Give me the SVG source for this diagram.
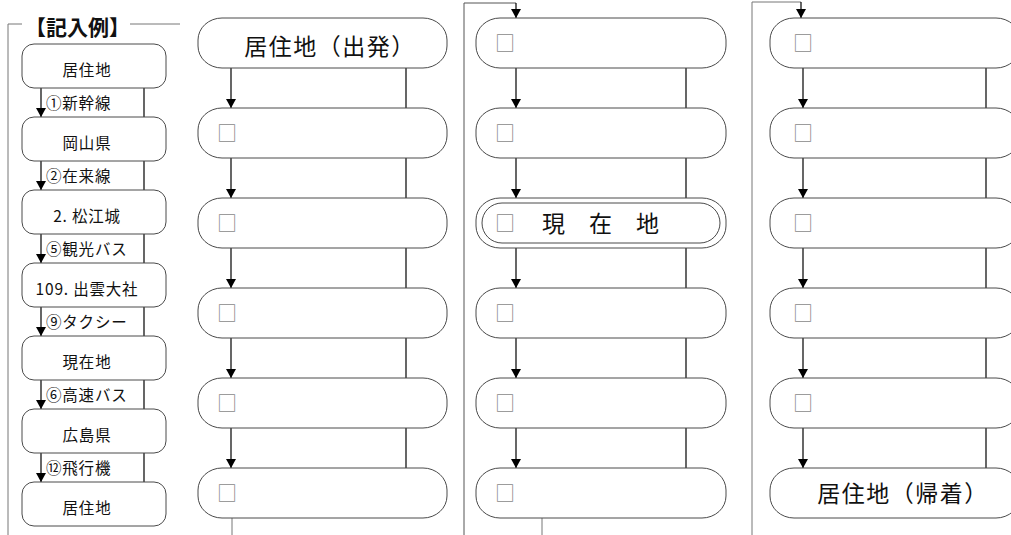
<svg xmlns="http://www.w3.org/2000/svg" width="1011" height="535" viewBox="0 0 1011 535">
<defs>
<marker id="ah" markerUnits="userSpaceOnUse" markerWidth="10" markerHeight="10" refX="9" refY="5" orient="auto" viewBox="0 0 10 10">
<path d="M0,0 L9,5 L0,10 Z" fill="#000"/>
</marker>
<style>
text{font-family:"Noto Sans CJK JP","Noto Sans",sans-serif;fill:#111}
.ex{fill:#fff;stroke:#4a4a4a;stroke-width:1}
.bx{fill:#fff;stroke:#4a4a4a;stroke-width:1}
.ext{font-size:15.5px;text-anchor:middle;letter-spacing:0.8px}
.lab{font-size:15.5px;letter-spacing:0.8px}
.big{font-size:23px;text-anchor:middle;letter-spacing:1.5px}
.chk{font-size:20px;fill:#8a8a8a}
.arr{stroke:#000;stroke-width:1.2;fill:none;marker-end:url(#ah)}
.ln{stroke:#000;stroke-width:1.2;fill:none}
.frm{stroke:#777;stroke-width:1;fill:none}
</style>
</defs>
<rect width="1011" height="535" fill="#fff"/>

<g id="example-frame">
<path class="frm" d="M8,535 V24 H22"/>
<line class="frm" x1="130" y1="24" x2="180" y2="24"/>
<text x="25" y="35" style="font-size:21px;font-weight:bold">【記入例】</text>
</g>

<g id="connectors">
<line class="arr" x1="41" y1="88" x2="41" y2="117"/>
<line class="ln" x1="144" y1="88" x2="144" y2="117"/>
<line class="arr" x1="41" y1="161" x2="41" y2="190"/>
<line class="ln" x1="144" y1="161" x2="144" y2="190"/>
<line class="arr" x1="41" y1="234" x2="41" y2="263"/>
<line class="ln" x1="144" y1="234" x2="144" y2="263"/>
<line class="arr" x1="41" y1="307" x2="41" y2="336"/>
<line class="ln" x1="144" y1="307" x2="144" y2="336"/>
<line class="arr" x1="41" y1="380" x2="41" y2="409"/>
<line class="ln" x1="144" y1="380" x2="144" y2="409"/>
<line class="arr" x1="41" y1="453" x2="41" y2="482"/>
<line class="ln" x1="144" y1="453" x2="144" y2="482"/>

<line class="arr" x1="231" y1="68" x2="231" y2="108"/>
<line class="ln" x1="406" y1="68" x2="406" y2="108"/>
<line class="arr" x1="231" y1="158" x2="231" y2="198"/>
<line class="ln" x1="406" y1="158" x2="406" y2="198"/>
<line class="arr" x1="231" y1="248" x2="231" y2="288"/>
<line class="ln" x1="406" y1="248" x2="406" y2="288"/>
<line class="arr" x1="231" y1="338" x2="231" y2="378"/>
<line class="ln" x1="406" y1="338" x2="406" y2="378"/>
<line class="arr" x1="231" y1="428" x2="231" y2="468"/>
<line class="ln" x1="406" y1="428" x2="406" y2="468"/>
<line class="frm" x1="232" y1="518" x2="232" y2="535"/>

<path class="frm" d="M464,535 V3 H516" style="stroke:#555"/>
<line class="arr" x1="516" y1="3" x2="516" y2="18"/>
<line class="arr" x1="516" y1="68" x2="516" y2="108"/>
<line class="ln" x1="686" y1="68" x2="686" y2="108"/>
<line class="arr" x1="516" y1="158" x2="516" y2="198"/>
<line class="ln" x1="686" y1="158" x2="686" y2="198"/>
<line class="arr" x1="516" y1="248" x2="516" y2="288"/>
<line class="ln" x1="686" y1="248" x2="686" y2="288"/>
<line class="arr" x1="516" y1="338" x2="516" y2="378"/>
<line class="ln" x1="686" y1="338" x2="686" y2="378"/>
<line class="arr" x1="516" y1="428" x2="516" y2="468"/>
<line class="ln" x1="686" y1="428" x2="686" y2="468"/>
<line class="frm" x1="542" y1="518" x2="542" y2="535"/>

<path class="frm" d="M752,535 V2 H801"/>
<line class="arr" x1="801" y1="2" x2="801" y2="18"/>
<line class="arr" x1="803" y1="68" x2="803" y2="108"/>
<line class="ln" x1="986" y1="68" x2="986" y2="108"/>
<line class="arr" x1="803" y1="158" x2="803" y2="198"/>
<line class="ln" x1="986" y1="158" x2="986" y2="198"/>
<line class="arr" x1="803" y1="248" x2="803" y2="288"/>
<line class="ln" x1="986" y1="248" x2="986" y2="288"/>
<line class="arr" x1="803" y1="338" x2="803" y2="378"/>
<line class="ln" x1="986" y1="338" x2="986" y2="378"/>
<line class="arr" x1="803" y1="428" x2="803" y2="468"/>
<line class="ln" x1="986" y1="428" x2="986" y2="468"/>
</g>

<g id="example-labels">
<text class="lab" x="46" y="109">①新幹線</text>
<text class="lab" x="46" y="182">②在来線</text>
<text class="lab" x="46" y="255">⑤観光バス</text>
<text class="lab" x="46" y="328">⑨タクシー</text>
<text class="lab" x="46" y="401">⑥高速バス</text>
<text class="lab" x="46" y="474">⑫飛行機</text>
</g>

<g id="ex1"><rect class="ex" x="22" y="44" width="144" height="44" rx="12"/><text class="ext" x="87" y="76">居住地</text></g>
<g id="ex2"><rect class="ex" x="22" y="117" width="144" height="44" rx="12"/><text class="ext" x="87" y="149">岡山県</text></g>
<g id="ex3"><rect class="ex" x="22" y="190" width="144" height="44" rx="12"/><text class="ext" x="87" y="222">2. 松江城</text></g>
<g id="ex4"><rect class="ex" x="22" y="263" width="144" height="44" rx="12"/><text class="ext" x="87" y="295">109. 出雲大社</text></g>
<g id="ex5"><rect class="ex" x="22" y="336" width="144" height="44" rx="12"/><text class="ext" x="87" y="368">現在地</text></g>
<g id="ex6"><rect class="ex" x="22" y="409" width="144" height="44" rx="12"/><text class="ext" x="87" y="441">広島県</text></g>
<g id="ex7"><rect class="ex" x="22" y="482" width="144" height="44" rx="12"/><text class="ext" x="87" y="514">居住地</text></g>

<g id="c1r1"><rect class="bx" x="198" y="18" width="249" height="50" rx="24" ry="22"/><text class="big" x="330" y="55">居住地（出発）</text></g>
<g id="c1r2"><rect class="bx" x="198" y="108" width="249" height="50" rx="24" ry="22"/><text class="chk" x="217" y="141">□</text></g>
<g id="c1r3"><rect class="bx" x="198" y="198" width="249" height="50" rx="24" ry="22"/><text class="chk" x="217" y="231">□</text></g>
<g id="c1r4"><rect class="bx" x="198" y="288" width="249" height="50" rx="24" ry="22"/><text class="chk" x="217" y="321">□</text></g>
<g id="c1r5"><rect class="bx" x="198" y="378" width="249" height="50" rx="24" ry="22"/><text class="chk" x="217" y="411">□</text></g>
<g id="c1r6"><rect class="bx" x="198" y="468" width="249" height="50" rx="24" ry="22"/><text class="chk" x="217" y="501">□</text></g>

<g id="c2r1"><rect class="bx" x="476" y="18" width="250" height="50" rx="24" ry="22"/><text class="chk" x="495" y="51">□</text></g>
<g id="c2r2"><rect class="bx" x="476" y="108" width="250" height="50" rx="24" ry="22"/><text class="chk" x="495" y="141">□</text></g>
<g id="c2r3"><rect class="bx" x="476" y="198" width="250" height="50" rx="24" ry="22"/><rect class="bx" x="482" y="203" width="238" height="40" rx="20"/><text class="chk" x="495" y="231">□</text><text x="542" y="232" style="font-size:23px;letter-spacing:24px">現在地</text></g>
<g id="c2r4"><rect class="bx" x="476" y="288" width="250" height="50" rx="24" ry="22"/><text class="chk" x="495" y="321">□</text></g>
<g id="c2r5"><rect class="bx" x="476" y="378" width="250" height="50" rx="24" ry="22"/><text class="chk" x="495" y="411">□</text></g>
<g id="c2r6"><rect class="bx" x="476" y="468" width="250" height="50" rx="24" ry="22"/><text class="chk" x="495" y="501">□</text></g>

<g id="c3r1"><rect class="bx" x="770" y="18" width="250" height="50" rx="24" ry="22"/><text class="chk" x="793" y="51">□</text></g>
<g id="c3r2"><rect class="bx" x="770" y="108" width="250" height="50" rx="24" ry="22"/><text class="chk" x="793" y="141">□</text></g>
<g id="c3r3"><rect class="bx" x="770" y="198" width="250" height="50" rx="24" ry="22"/><text class="chk" x="793" y="231">□</text></g>
<g id="c3r4"><rect class="bx" x="770" y="288" width="250" height="50" rx="24" ry="22"/><text class="chk" x="793" y="321">□</text></g>
<g id="c3r5"><rect class="bx" x="770" y="378" width="250" height="50" rx="24" ry="22"/><text class="chk" x="793" y="411">□</text></g>
<g id="c3r6"><rect class="bx" x="770" y="468" width="250" height="50" rx="24" ry="22"/><text class="big" x="903" y="502">居住地（帰着）</text></g>
</svg>
